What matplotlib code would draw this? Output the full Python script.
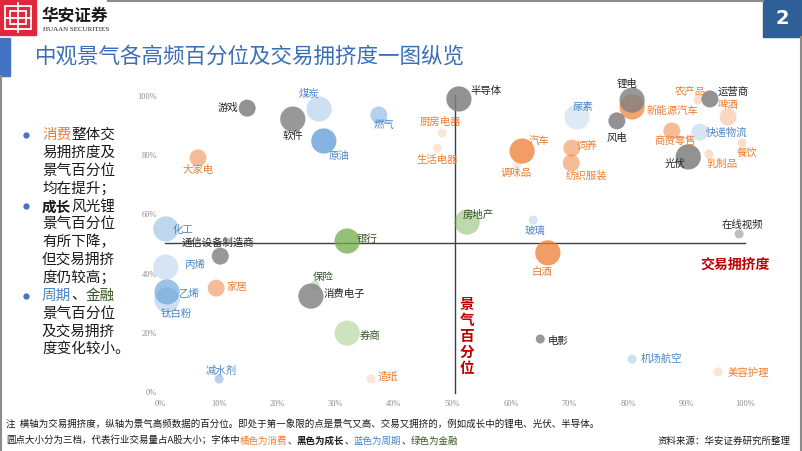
import matplotlib
matplotlib.use("Agg")
import matplotlib.pyplot as plt
from matplotlib.colors import to_rgba
from matplotlib.patches import Rectangle

plt.rcParams['font.family'] = ['Noto Sans CJK SC', 'DejaVu Sans']

# 行业 / 交易拥挤度(%) / 景气百分位(%) / 大小档 / 类别 / 颜色深浅
names = ["游戏", "软件", "煤炭", "原油", "大家电", "化工", "通信设备制造商", "丙烯",
         "家居", "乙烯", "钛白粉", "保险", "消费电子", "银行", "券商", "减水剂", "造纸",
         "燃气", "半导体", "厨房电器", "生活电器", "汽车", "调味品", "房地产", "玻璃",
         "白酒", "电影", "尿素", "饲养", "纺织服装", "新能源汽车", "锂电", "风电", "农产品",
         "运营商", "啤酒", "商贸零售", "快递物流", "餐饮", "乳制品", "光伏", "在线视频",
         "机场航空", "美容护理"]
crowding = [14.9, 22.7, 27.2, 28.0, 6.5, 1.0, 10.3, 1.0,
            9.6, 1.2, 1.2, 26.5, 25.8, 32.0, 32.0, 10.1, 36.1,
            37.4, 51.1, 48.2, 47.4, 61.9, 61.0, 52.5, 63.8,
            66.3, 65.0, 71.3, 70.4, 70.3, 80.7, 80.7, 78.1, 92.0,
            94.0, 97.1, 87.5, 92.3, 99.5, 93.8, 90.3, 99.0,
            80.7, 95.4]
boom = [95.9, 92.2, 95.6, 84.8, 79.1, 55.1, 45.9, 42.2,
        35.1, 33.8, 31.1, 36.1, 32.4, 51.0, 19.9, 4.4, 4.4,
        93.6, 99.0, 87.5, 82.4, 81.4, 76.7, 57.4, 58.1,
        47.0, 17.9, 92.9, 82.4, 77.4, 96.3, 98.6, 91.6, 98.6,
        99.0, 92.9, 88.2, 87.8, 84.1, 80.4, 79.4, 53.4,
        11.1, 6.8]
tier = [2, 3, 3, 3, 2, 3, 2, 3,
        2, 3, 3, 1, 3, 3, 3, 1, 1,
        2, 3, 1, 1, 3, 1, 3, 1,
        3, 1, 3, 2, 2, 3, 3, 2, 1,
        2, 2, 2, 2, 1, 1, 3, 1,
        1, 1]
group = ["成长", "成长", "周期", "周期", "消费", "周期", "成长", "周期",
         "消费", "周期", "周期", "金融", "成长", "金融", "金融", "周期", "消费",
         "周期", "成长", "消费", "消费", "消费", "消费", "金融", "周期",
         "消费", "成长", "周期", "消费", "消费", "消费", "成长", "成长", "消费",
         "成长", "消费", "消费", "周期", "消费", "消费", "成长", "成长",
         "周期", "消费"]
shade = [0.85, 0.8, 0.3, 0.75, 0.5, 0.4, 0.8, 0.25,
         0.5, 0.6, 0.3, 0.35, 0.8, 0.75, 0.35, 0.45, 0.2,
         0.45, 0.85, 0.2, 0.2, 0.75, 0.15, 0.45, 0.25,
         0.75, 0.8, 0.2, 0.5, 0.5, 0.7, 0.8, 0.85, 0.25,
         0.85, 0.3, 0.5, 0.25, 0.25, 0.25, 0.85, 0.5,
         0.3, 0.2]

x_ticks = [0, 10, 20, 30, 40, 50, 60, 70, 80, 90, 100]
y_ticks = [0, 20, 40, 60, 80, 100]

bubble_col = {"消费": "#ED7D31", "成长": "#7F7F7F", "周期": "#5B9BD5", "金融": "#70AD47"}
text_col = {"消费": "#ED7D31", "成长": "#262626", "周期": "#4A86C8", "金融": "#375623"}
tier_size = {1: 42, 2: 150, 3: 330}

# 标签偏移(像素, 向右, 向下, 对齐)
lab = {
    "游戏": (-9, 0, "right"), "软件": (0, 17, "center"), "煤炭": (-10, -15, "center"),
    "原油": (15, 15, "center"), "大家电": (0, 12, "center"), "化工": (7, 1, "left"),
    "通信设备制造商": (-2, -13, "center"), "丙烯": (18, -2, "left"), "家居": (10, -1, "left"),
    "乙烯": (11, 2, "left"), "钛白粉": (9, 14, "center"), "保险": (8, -8, "center"),
    "消费电子": (13, -2, "left"), "银行": (9, -2, "left"), "券商": (12, 4, "left"),
    "减水剂": (2, -8, "center"), "造纸": (6, -2, "left"), "燃气": (5, 10, "center"),
    "半导体": (12, -8, "left"), "厨房电器": (-2, -11, "center"), "生活电器": (0, 12, "center"),
    "汽车": (6, -10, "left"), "调味品": (-1, 8, "center"), "房地产": (-4, -7, "left"),
    "玻璃": (2, 11, "center"), "白酒": (-6, 19, "center"), "电影": (7, 2, "left"),
    "尿素": (6, -10, "center"), "饲养": (15, -2, "center"), "纺织服装": (15, 13, "center"),
    "新能源汽车": (14, 4, "left"), "锂电": (-5, -16, "center"), "风电": (0, 17, "center"),
    "农产品": (-8, -8, "center"), "运营商": (8, -7, "left"), "啤酒": (0, -12, "center"),
    "商贸零售": (3, 11, "center"), "快递物流": (6, 1, "left"), "餐饮": (5, 10, "center"),
    "乳制品": (13, 10, "center"), "光伏": (-13, 7, "center"), "在线视频": (3, -9, "center"),
    "机场航空": (9, 0, "left"), "美容护理": (9, 1, "left"),
}

W, H = 802, 451
fig = plt.figure(figsize=(W / 100, H / 100), dpi=100)

# 背景装饰层, 像素坐标
deco = fig.add_axes([0, 0, 1, 1], zorder=0)
deco.set_xlim(0, W)
deco.set_ylim(H, 0)
deco.axis("off")

deco.plot([108, 763], [1, 1], color="#8c8c8c", lw=1.5)
deco.plot([1, 1], [76, H], color="#8c8c8c", lw=1.5)
deco.plot([800.5, 800.5], [37, H], color="#8c8c8c", lw=1.5)
deco.add_patch(Rectangle((0, 38), 10, 38, color="#4472C4"))
deco.add_patch(Rectangle((763, 0), 39, 37, color="#2F5F97"))
deco.text(782, 19, "2", color="white", fontsize=14, fontweight="bold",
          ha="center", va="center", family="DejaVu Sans")

# logo
deco.add_patch(Rectangle((0, 0), 36, 35, color="#E0283C"))
for rx, ry, rw, rh in [(5, 6, 26, 23), (10, 11, 16, 13)]:
    deco.add_patch(Rectangle((rx, ry), rw, rh, fill=False, ec="white", lw=1.3))
deco.plot([18, 18], [3, 32], color="white", lw=1.3)
deco.plot([5, 31], [17.5, 17.5], color="white", lw=1.3)
deco.text(42, 16, "华安证券", fontsize=12, fontweight="bold", color="#1a1a1a",
          va="center", ha="left")
deco.text(43, 29.5, "HUAAN SECURITIES", fontsize=5, color="#1a1a1a",
          va="center", ha="left", family="Liberation Serif")

deco.text(35, 57, "中观景气各高频百分位及交易拥挤度一图纵览", fontsize=15.5,
          color="#3A6FB5", va="center", ha="left")

renderer = fig.canvas.get_renderer()


def seg_text(x, y, parts, size):
    for s, c, w in parts:
        t = deco.text(x, y, s, fontsize=size, color=c, fontweight=w,
                      ha="left", va="center")
        bb = t.get_window_extent(renderer)
        x += bb.width


blk = "#1a1a1a"
orange = "#ED7D31"
blue = "#4A86C8"
green = "#375623"
left_lines = [
    [("消费", orange, "normal"), ("整体交", blk, "normal")],
    [("易拥挤度及", blk, "normal")],
    [("景气百分位", blk, "normal")],
    [("均在提升；", blk, "normal")],
    [("成长", blk, "bold"), ("风光锂", blk, "normal")],
    [("景气百分位", blk, "normal")],
    [("有所下降，", blk, "normal")],
    [("但交易拥挤", blk, "normal")],
    [("度仍较高；", blk, "normal")],
    [("周期", blue, "normal"), ("、", blk, "normal"), ("金融", green, "normal")],
    [("景气百分位", blk, "normal")],
    [("及交易拥挤", blk, "normal")],
    [("度变化较小。", blk, "normal")],
]
for i, parts in enumerate(left_lines):
    yy = 135 + i * 17.85
    seg_text(42, yy, parts, 10.5)
    if i in (0, 4, 9):
        deco.plot(26, yy, "o", color="#4472C4", ms=3.5)

seg_text(6, 424, [("注  横轴为交易拥挤度，纵轴为景气高频数据的百分位。即处于第一象限的点是景气又高、交易又拥挤的，例如成长中的锂电、光伏、半导体。", blk, "normal")], 6.8)
seg_text(6, 441, [("圆点大小分为三档，代表行业交易量占A股大小；字体中", blk, "normal"),
                  ("橘色为消费", orange, "normal"), ("、", blk, "normal"),
                  ("黑色为成长", blk, "bold"), ("、", blk, "normal"),
                  ("蓝色为周期", blue, "normal"), ("、", blk, "normal"),
                  ("绿色为金融", green, "normal")], 6.8)
deco.text(790, 441, "资料来源：华安证券研究所整理", fontsize=6.8, color=blk,
          ha="right", va="center")

# 主图
x0, x1, y0, y1 = 150, 760, 85, 400
ax = fig.add_axes([x0 / W, 1 - y1 / H, (x1 - x0) / W, (y1 - y0) / H], zorder=2)
ax.patch.set_alpha(0)
ax.set_xlim((x0 - 160) / 5.85, (x1 - 160) / 5.85)
ax.set_ylim((392 - y1) / 2.96, (392 - y0) / 2.96)
for sp in ax.spines.values():
    sp.set_visible(False)
ax.set_xticks(x_ticks)
ax.set_xticklabels([f"{v}%" for v in x_ticks])
ax.set_yticks(y_ticks)
ax.set_yticklabels([f"{v}%" for v in y_ticks])
ax.tick_params(length=0, labelsize=6, labelcolor="#8c8c8c")
ax.tick_params(axis="x", pad=0)
ax.tick_params(axis="y", pad=-5)
for t in ax.get_xticklabels() + ax.get_yticklabels():
    t.set_family("Liberation Serif")

ax.plot([0.9, 100], [50.3, 50.3], color="#404040", lw=1, zorder=1)
ax.plot([50.4, 50.4], [-0.3, 100.3], color="#404040", lw=1, zorder=1)

cols = [to_rgba(bubble_col[g], a) for g, a in zip(group, shade)]
sizes = [tier_size[t] for t in tier]
ax.scatter(crowding, boom, s=sizes, c=cols, linewidths=0, zorder=2, clip_on=False)

for n, xv, yv, g in zip(names, crowding, boom, group):
    dx, dy, ha = lab[n]
    ax.annotate(n, (xv, yv), xytext=(dx, -dy), textcoords="offset pixels",
                ha=ha, va="center", fontsize=7.5, color=text_col[g], zorder=3,
                annotation_clip=False)

deco.text(735, 265, "交易拥挤度", fontsize=10, fontweight="bold", color="#C00000",
          ha="center", va="center")
ax.text(50.4, (392 - 336) / 2.96, "\n".join("景气百分位"), fontsize=10.5,
        fontweight="bold", color="#C00000", ha="left", va="center",
        linespacing=1.0, transform=ax.transData)
# 把竖排文字放到竖线右侧
ax.texts[-1].set_x(51.2)

fig.savefig("out.png", dpi=100)
